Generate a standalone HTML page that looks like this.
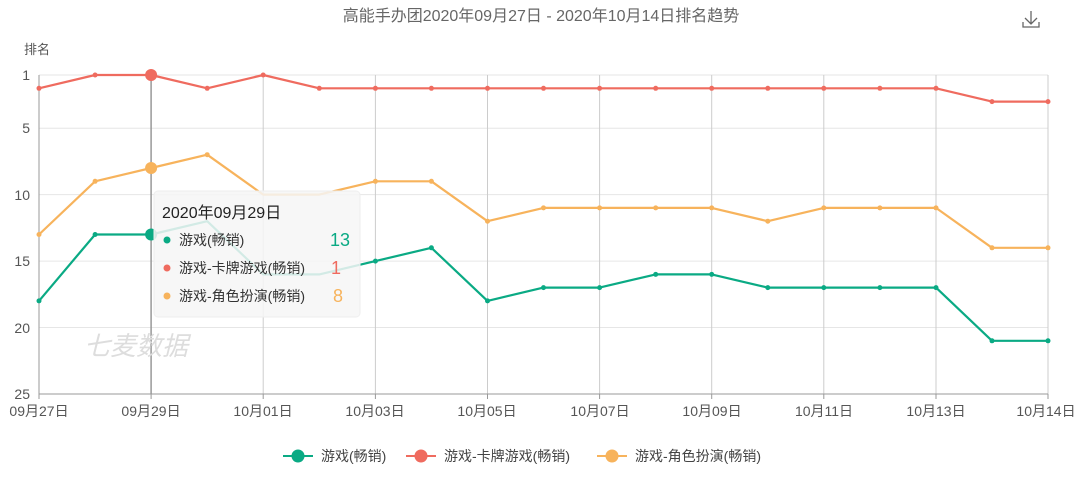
<!DOCTYPE html>
<html><head><meta charset="utf-8"><style>
body{margin:0;background:#fff;width:1083px;height:487px;overflow:hidden;font-family:"Liberation Sans","Noto Sans CJK SC",sans-serif}
</style></head><body>
<svg width="1083" height="487" xmlns="http://www.w3.org/2000/svg" font-family="Liberation Sans, Noto Sans CJK SC, sans-serif">
<text x="541" y="21" text-anchor="middle" font-size="16" fill="#666">高能手办团2020年09月27日 - 2020年10月14日排名趋势</text>
<g stroke="#666" stroke-width="1.3" fill="none"><path d="M1031 11v13M1025 18l6 6 6-6M1023 22v5h16v-5"/></g>
<text x="24" y="54" font-size="13" fill="#555">排名</text>
<g stroke="#e6e6e6" stroke-width="1">
<line x1="39" x2="1048" y1="75" y2="75"/><line x1="39" x2="1048" y1="128.2" y2="128.2"/><line x1="39" x2="1048" y1="194.6" y2="194.6"/><line x1="39" x2="1048" y1="261.1" y2="261.1"/><line x1="39" x2="1048" y1="327.5" y2="327.5"/>
</g>
<g stroke="#ccc" stroke-width="1">
<line x1="263.2" x2="263.2" y1="75" y2="394"/><line x1="375.4" x2="375.4" y1="75" y2="394"/><line x1="487.5" x2="487.5" y1="75" y2="394"/><line x1="599.6" x2="599.6" y1="75" y2="394"/><line x1="711.7" x2="711.7" y1="75" y2="394"/><line x1="823.8" x2="823.8" y1="75" y2="394"/><line x1="936" x2="936" y1="75" y2="394"/><line x1="1048" x2="1048" y1="75" y2="394"/>
</g>
<line x1="39" x2="39" y1="75" y2="394" stroke="#999"/>
<line x1="39" x2="1048" y1="394" y2="394" stroke="#999"/>
<g stroke="#999"><line x1="39" x2="39" y1="394" y2="399"/><line x1="151.1" x2="151.1" y1="394" y2="399"/><line x1="263.2" x2="263.2" y1="394" y2="399"/><line x1="375.4" x2="375.4" y1="394" y2="399"/><line x1="487.5" x2="487.5" y1="394" y2="399"/><line x1="599.6" x2="599.6" y1="394" y2="399"/><line x1="711.7" x2="711.7" y1="394" y2="399"/><line x1="823.8" x2="823.8" y1="394" y2="399"/><line x1="936" x2="936" y1="394" y2="399"/><line x1="1048" x2="1048" y1="394" y2="399"/></g>
<line x1="151.1" x2="151.1" y1="75" y2="394" stroke="#999" stroke-width="1.5"/>
<g font-size="14" fill="#555" text-anchor="end">
<text x="30" y="80">1</text><text x="30" y="133">5</text><text x="30" y="200">10</text><text x="30" y="266">15</text><text x="30" y="333">20</text><text x="30" y="399">25</text>
</g>
<g font-size="14" fill="#555" text-anchor="middle">
<text x="39" y="416">09月27日</text><text x="151" y="416">09月29日</text><text x="263" y="416">10月01日</text><text x="375" y="416">10月03日</text><text x="487" y="416">10月05日</text><text x="600" y="416">10月07日</text><text x="712" y="416">10月09日</text><text x="824" y="416">10月11日</text><text x="936" y="416">10月13日</text><text x="1046" y="416">10月14日</text>
</g>
<text x="84" y="355" font-size="26" fill="#ddd" font-style="italic">七麦数据</text>
<g fill="none" stroke-width="2.2" stroke-linejoin="round">
<polyline stroke="#ef6b5f" points="39,88.3 95.1,75 151.1,75 207.2,88.3 263.2,75 319.3,88.3 375.4,88.3 431.4,88.3 487.5,88.3 543.5,88.3 599.6,88.3 655.7,88.3 711.7,88.3 767.8,88.3 823.8,88.3 879.9,88.3 936,88.3 992,101.6 1048,101.6"/>
<polyline stroke="#f7b35c" points="39,234.5 95.1,181.3 151.1,168 207.2,154.7 263.2,194.6 319.3,194.6 375.4,181.3 431.4,181.3 487.5,221.2 543.5,207.9 599.6,207.9 655.7,207.9 711.7,207.9 767.8,221.2 823.8,207.9 879.9,207.9 936,207.9 992,247.8 1048,247.8"/>
<polyline stroke="#0aaa84" points="39,300.9 95.1,234.5 151.1,234.5 207.2,221.2 263.2,274.4 319.3,274.4 375.4,261.1 431.4,247.8 487.5,300.9 543.5,287.6 599.6,287.6 655.7,274.4 711.7,274.4 767.8,287.6 823.8,287.6 879.9,287.6 936,287.6 992,340.8 1048,340.8"/>
</g>
<g fill="#ef6b5f"><circle cx="39" cy="88.3" r="2.5"/><circle cx="95.1" cy="75" r="2.5"/><circle cx="207.2" cy="88.3" r="2.5"/><circle cx="263.2" cy="75" r="2.5"/><circle cx="319.3" cy="88.3" r="2.5"/><circle cx="375.4" cy="88.3" r="2.5"/><circle cx="431.4" cy="88.3" r="2.5"/><circle cx="487.5" cy="88.3" r="2.5"/><circle cx="543.5" cy="88.3" r="2.5"/><circle cx="599.6" cy="88.3" r="2.5"/><circle cx="655.7" cy="88.3" r="2.5"/><circle cx="711.7" cy="88.3" r="2.5"/><circle cx="767.8" cy="88.3" r="2.5"/><circle cx="823.8" cy="88.3" r="2.5"/><circle cx="879.9" cy="88.3" r="2.5"/><circle cx="936" cy="88.3" r="2.5"/><circle cx="992" cy="101.6" r="2.5"/><circle cx="1048" cy="101.6" r="2.5"/><circle cx="151.1" cy="75" r="6"/></g>
<g fill="#f7b35c"><circle cx="39" cy="234.5" r="2.5"/><circle cx="95.1" cy="181.3" r="2.5"/><circle cx="207.2" cy="154.7" r="2.5"/><circle cx="375.4" cy="181.3" r="2.5"/><circle cx="431.4" cy="181.3" r="2.5"/><circle cx="487.5" cy="221.2" r="2.5"/><circle cx="543.5" cy="207.9" r="2.5"/><circle cx="599.6" cy="207.9" r="2.5"/><circle cx="655.7" cy="207.9" r="2.5"/><circle cx="711.7" cy="207.9" r="2.5"/><circle cx="767.8" cy="221.2" r="2.5"/><circle cx="823.8" cy="207.9" r="2.5"/><circle cx="879.9" cy="207.9" r="2.5"/><circle cx="936" cy="207.9" r="2.5"/><circle cx="992" cy="247.8" r="2.5"/><circle cx="1048" cy="247.8" r="2.5"/><circle cx="151.1" cy="168" r="6"/></g>
<g fill="#0aaa84"><circle cx="39" cy="300.9" r="2.5"/><circle cx="95.1" cy="234.5" r="2.5"/><circle cx="375.4" cy="261.1" r="2.5"/><circle cx="431.4" cy="247.8" r="2.5"/><circle cx="487.5" cy="300.9" r="2.5"/><circle cx="543.5" cy="287.6" r="2.5"/><circle cx="599.6" cy="287.6" r="2.5"/><circle cx="655.7" cy="274.4" r="2.5"/><circle cx="711.7" cy="274.4" r="2.5"/><circle cx="767.8" cy="287.6" r="2.5"/><circle cx="823.8" cy="287.6" r="2.5"/><circle cx="879.9" cy="287.6" r="2.5"/><circle cx="936" cy="287.6" r="2.5"/><circle cx="992" cy="340.8" r="2.5"/><circle cx="1048" cy="340.8" r="2.5"/><circle cx="151.1" cy="234.5" r="6"/></g>
<rect x="154" y="191" width="206" height="126" rx="4" fill="#f6f6f6" fill-opacity="0.85" stroke="#eee"/>
<text x="162" y="218" font-size="16" fill="#222">2020年09月29日</text>
<circle cx="167" cy="240" r="3.5" fill="#0aaa84"/><text x="179" y="245" font-size="14" fill="#333">游戏(畅销)</text><text x="350" y="246" font-size="18" fill="#0aaa84" text-anchor="end">13</text>
<circle cx="167" cy="268" r="3.5" fill="#ef6b5f"/><text x="179" y="273" font-size="14" fill="#333">游戏-卡牌游戏(畅销)</text><text x="341" y="274" font-size="18" fill="#ef6b5f" text-anchor="end">1</text>
<circle cx="167" cy="296" r="3.5" fill="#f7b35c"/><text x="179" y="301" font-size="14" fill="#333">游戏-角色扮演(畅销)</text><text x="343" y="302" font-size="18" fill="#f7b35c" text-anchor="end">8</text>
<g font-size="14" fill="#444">
<line x1="283" x2="313" y1="456" y2="456" stroke="#0aaa84" stroke-width="2"/><circle cx="298" cy="456" r="6.5" fill="#0aaa84"/><text x="321" y="461">游戏(畅销)</text>
<line x1="406" x2="436" y1="456" y2="456" stroke="#ef6b5f" stroke-width="2"/><circle cx="421" cy="456" r="6.5" fill="#ef6b5f"/><text x="444" y="461">游戏-卡牌游戏(畅销)</text>
<line x1="597" x2="627" y1="456" y2="456" stroke="#f7b35c" stroke-width="2"/><circle cx="612" cy="456" r="6.5" fill="#f7b35c"/><text x="635" y="461">游戏-角色扮演(畅销)</text>
</g>
</svg>
</body></html>
